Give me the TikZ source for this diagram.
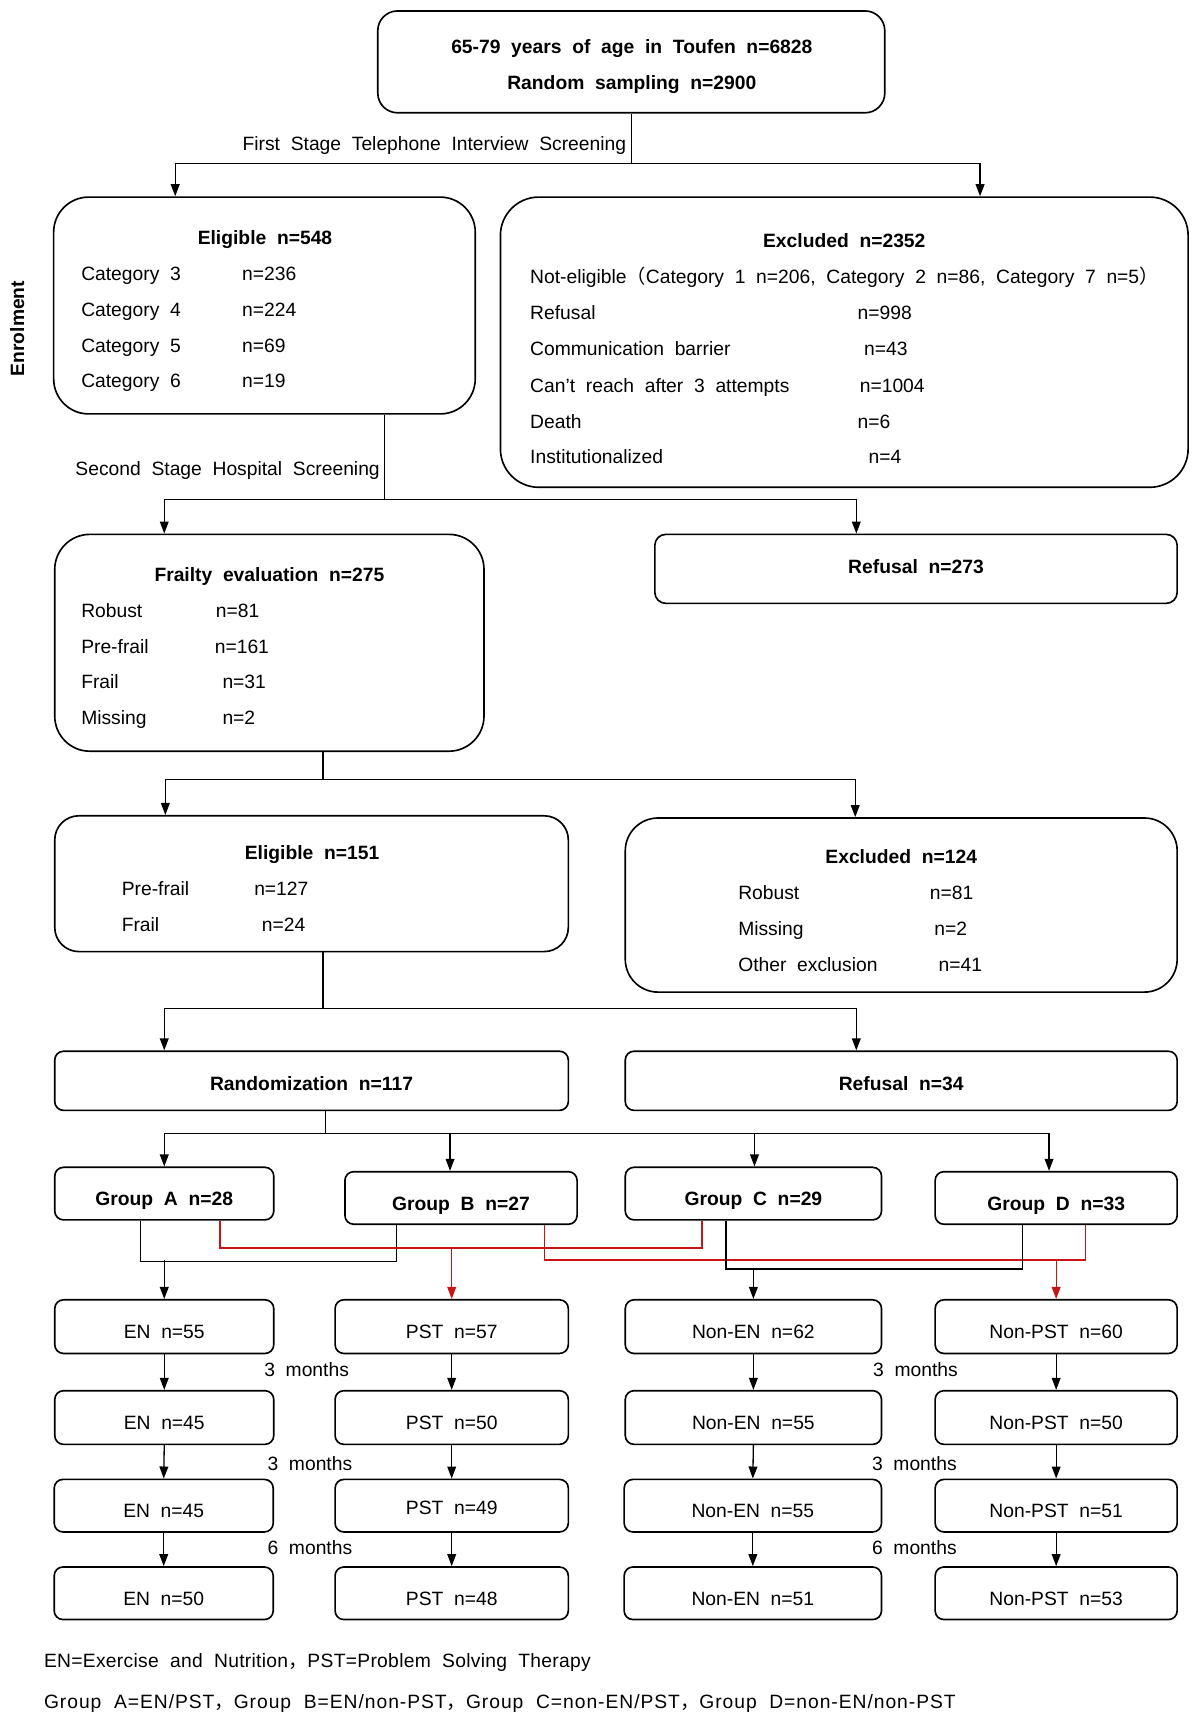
\documentclass[tikz,border=0pt]{standalone}
\usepackage{fontspec}
\setmainfont{Liberation Sans}[WordSpace=2]
\newfontfamily\cjk{Noto Sans CJK SC}
\newfontfamily\fnA{Liberation Sans}[WordSpace=2,LetterSpace=1.5]
\newfontfamily\fnB{Liberation Sans}[WordSpace=2,LetterSpace=5]
\usetikzlibrary{arrows.meta,calc}
\definecolor{redline}{RGB}{200,20,20}
\begin{document}
\begin{tikzpicture}[x=1pt,y=-1pt,
  every node/.style={font=\fontsize{17.6}{20}\selectfont},
  box/.style={draw,line width=1.5pt,rounded corners=#1,inner sep=0pt},
  box/.default=9pt,
  txt/.style={inner sep=0pt,text height=12pt,text depth=0pt},
  hd/.style={txt,font=\fontsize{17.6}{20}\selectfont\bfseries},
  lowtxt/.style={text height=22pt,text depth=0pt},
  midtxt/.style={text height=18pt,text depth=0pt},
  conn/.style={line width=1.2pt},
  arr/.style={conn,-{Triangle[length=11pt,width=8pt]}},
  rconn/.style={conn,draw=redline},
  rarr/.style={arr,draw=redline,fill=redline}
]
\fill[white] (0,0) rectangle (1096,1568);
\useasboundingbox (0,0) rectangle (1096,1568);

% ---------- top box ----------
\node[box=18pt,minimum width=463pt,minimum height=93pt] (top) at (576.5,56.5) {};
\node[hd] (top1) at (577,43) {65-79 years of age in Toufen n=6828};
\node[hd] (top2) at (577,76) {Random sampling n=2900};

% ---------- Enrolment ----------
\node[hd,rotate=90] (enrol) at (16,300) {Enrolment};

% ---------- eligible 548 ----------
\node[box=32pt,minimum width=385pt,minimum height=198pt] (el1) at (241.5,279) {};
\node[hd] (el1h) at (242,217) {Eligible n=548};
\node[txt,anchor=west] (el1a) at (74,250) {Category 3};
\node[txt,anchor=west] (el1av) at (221,250) {n=236};
\node[txt,anchor=west] (el1b) at (74,283) {Category 4};
\node[txt,anchor=west] (el1bv) at (221,283) {n=224};
\node[txt,anchor=west] (el1c) at (74,316) {Category 5};
\node[txt,anchor=west] (el1cv) at (221,316) {n=69};
\node[txt,anchor=west] (el1d) at (74,348) {Category 6};
\node[txt,anchor=west] (el1dv) at (221,348) {n=19};

% ---------- excluded 2352 ----------
\node[box=35pt,minimum width=628pt,minimum height=265pt] (ex1) at (771,312.5) {};
\node[hd] (ex1h) at (771,220) {Excluded n=2352};
\node[txt,anchor=west] (ex1a) at (484,253) {Not-eligible{\cjk （}Category 1 n=206, Category 2 n=86, Category 7 n=5{\cjk ）}};
\node[txt,anchor=west] (ex1b) at (484,286) {Refusal};
\node[txt,anchor=west] (ex1bv) at (783,286) {n=998};
\node[txt,anchor=west] (ex1c) at (484,319) {Communication barrier};
\node[txt,anchor=west] (ex1cv) at (789,319) {n=43};
\node[txt,anchor=west] (ex1d) at (484,352) {Can’t reach after 3 attempts};
\node[txt,anchor=west] (ex1dv) at (785,352) {n=1004};
\node[txt,anchor=west] (ex1e) at (484,385) {Death};
\node[txt,anchor=west] (ex1ev) at (783,385) {n=6};
\node[txt,anchor=west] (ex1f) at (484,417) {Institutionalized};
\node[txt,anchor=west] (ex1fv) at (793,417) {n=4};

% ---------- frailty ----------
\node[box=32pt,minimum width=392pt,minimum height=198pt] (fr) at (246,587) {};
\node[hd] (frh) at (246,525) {Frailty evaluation n=275};
\node[txt,anchor=west] (fra) at (74,558) {Robust};
\node[txt,anchor=west] (frav) at (197,558) {n=81};
\node[txt,anchor=west] (frb) at (74,591) {Pre-frail};
\node[txt,anchor=west] (frbv) at (196,591) {n=161};
\node[txt,anchor=west] (frc) at (74,623) {Frail};
\node[txt,anchor=west] (frcv) at (203,623) {n=31};
\node[txt,anchor=west] (frd) at (74,656) {Missing};
\node[txt,anchor=west] (frdv) at (203,656) {n=2};

% ---------- refusal 273 ----------
\node[box=10pt,minimum width=477pt,minimum height=63pt,font=\fontsize{17.6}{20}\selectfont\bfseries,text height=9pt,text depth=0pt] (rf1) at (836.5,519.5) {Refusal n=273};

% ---------- eligible 151 ----------
\node[box=22pt,minimum width=469pt,minimum height=124pt] (el2) at (284.5,807) {};
\node[hd] (el2h) at (285,779) {Eligible n=151};
\node[txt,anchor=west] (el2a) at (111,812) {Pre-frail};
\node[txt,anchor=west] (el2av) at (232,812) {n=127};
\node[txt,anchor=west] (el2b) at (111,845) {Frail};
\node[txt,anchor=west] (el2bv) at (239,845) {n=24};

% ---------- excluded 124 ----------
\node[box=30pt,minimum width=504pt,minimum height=159pt] (ex2) at (823,826.5) {};
\node[hd] (ex2h) at (823,783) {Excluded n=124};
\node[txt,anchor=west] (ex2a) at (674,815) {Robust};
\node[txt,anchor=west] (ex2av) at (849,815) {n=81};
\node[txt,anchor=west] (ex2b) at (674,848) {Missing};
\node[txt,anchor=west] (ex2bv) at (853,848) {n=2};
\node[txt,anchor=west] (ex2c) at (674,881) {Other exclusion};
\node[txt,anchor=west] (ex2cv) at (857,881) {n=41};

% ---------- randomization / refusal 34 ----------
\node[box=8pt,minimum width=469pt,minimum height=54pt,midtxt,font=\fontsize{17.6}{20}\selectfont\bfseries] (rand) at (284.5,987) {Randomization n=117};
\node[box=8pt,minimum width=504pt,minimum height=54pt,midtxt,font=\fontsize{17.6}{20}\selectfont\bfseries] (rf2) at (823,987) {Refusal n=34};

% ---------- groups ----------
\begin{scope}[every node/.append style={font=\fontsize{17.6}{20}\selectfont\bfseries}]
\node[box=8pt,minimum width=200pt,minimum height=48pt,lowtxt] (gA) at (150,1090) {Group A n=28};
\node[box=8pt,minimum width=212pt,minimum height=48pt,lowtxt] (gB) at (421,1094) {Group B n=27};
\node[box=8pt,minimum width=234pt,minimum height=48pt,lowtxt] (gC) at (688,1090) {Group C n=29};
\node[box=8pt,minimum width=221pt,minimum height=48pt,lowtxt] (gD) at (964.5,1094) {Group D n=33};
\end{scope}

% ---------- outcome rows ----------
\node[box=8pt,minimum width=200pt,minimum height=49pt,lowtxt] (en1) at (150,1211.5) {EN n=55};
\node[box=8pt,minimum width=213pt,minimum height=49pt,lowtxt] (pst1) at (412.5,1211.5) {PST n=57};
\node[box=8pt,minimum width=234pt,minimum height=49pt,lowtxt] (nen1) at (688,1211.5) {Non-EN n=62};
\node[box=8pt,minimum width=221pt,minimum height=49pt,lowtxt] (npst1) at (964.5,1211.5) {Non-PST n=60};

\node[box=8pt,minimum width=200pt,minimum height=49pt,lowtxt] (en2) at (150,1294.5) {EN n=45};
\node[box=8pt,minimum width=213pt,minimum height=49pt,lowtxt] (pst2) at (412.5,1294.5) {PST n=50};
\node[box=8pt,minimum width=234pt,minimum height=49pt,lowtxt] (nen2) at (688,1294.5) {Non-EN n=55};
\node[box=8pt,minimum width=221pt,minimum height=49pt,lowtxt] (npst2) at (964.5,1294.5) {Non-PST n=50};

\node[box=8pt,minimum width=200pt,minimum height=48pt,lowtxt] (en3) at (149.5,1375) {EN n=45};
\node[box=8pt,minimum width=213pt,minimum height=48pt,text height=16pt,text depth=0pt] (pst3) at (412.5,1375) {PST n=49};
\node[box=8pt,minimum width=235pt,minimum height=48pt,lowtxt] (nen3) at (687.5,1375) {Non-EN n=55};
\node[box=8pt,minimum width=221pt,minimum height=48pt,lowtxt] (npst3) at (964.5,1375) {Non-PST n=51};

\node[box=8pt,minimum width=200pt,minimum height=48pt,lowtxt] (en4) at (149.5,1455) {EN n=50};
\node[box=8pt,minimum width=213pt,minimum height=48pt,lowtxt] (pst4) at (412.5,1455) {PST n=48};
\node[box=8pt,minimum width=235pt,minimum height=48pt,lowtxt] (nen4) at (687.5,1455) {Non-EN n=51};
\node[box=8pt,minimum width=221pt,minimum height=48pt,lowtxt] (npst4) at (964.5,1455) {Non-PST n=53};

% ---------- month labels ----------
\node[txt] (m1l) at (280,1251) {3 months};
\node[txt] (m1r) at (836,1251) {3 months};
\node[txt] (m2l) at (283,1337) {3 months};
\node[txt] (m2r) at (835,1337) {3 months};
\node[txt] (m3l) at (283,1414) {6 months};
\node[txt] (m3r) at (835,1414) {6 months};

% ---------- stage labels ----------
\node[txt,anchor=east] (lab1) at (572,131) {First Stage Telephone Interview Screening};
\node[txt,anchor=east] (lab2) at (347,428) {Second Stage Hospital Screening};

% ---------- footnotes ----------
\node[txt,anchor=west] (fn1) at (40,1517) {\fnA EN=Exercise and Nutrition{\cjk ，}PST=Problem Solving Therapy};
\node[txt,anchor=west] (fn2) at (40,1554) {\fnB Group A=EN/PST{\cjk ，}Group B=EN/non-PST{\cjk ，}Group C=non-EN/PST{\cjk ，}Group D=non-EN/non-PST};

% ---------- connectors: top ----------
\coordinate (j1) at (576.5,149);
\draw[conn] (top.south) -- (j1);
\draw[arr] (j1) -| ($(el1.north)+(-81.5,0)$);
\draw[arr] (j1) -| ($(ex1.north)+(124,0)$);

\coordinate (j2) at (351,456);
\draw[conn] ($(el1.south)+(109.5,0)$) -- (j2);
\draw[arr] (j2) -| ($(fr.north)+(-96,0)$);
\draw[arr] (j2) -| ($(rf1.north)+(-54.5,0)$);

\coordinate (j3) at (295,712);
\draw[conn] ($(fr.south)+(49,0)$) -- (j3);
\draw[arr] (j3) -| ($(el2.north)+(-133.5,0)$);
\draw[arr] (j3) -| ($(ex2.north)+(-42,0)$);

\coordinate (j4) at (295,921);
\draw[conn] ($(el2.south)+(10.5,0)$) -- (j4);
\draw[arr] (j4) -| ($(rand.north)+(-134.5,0)$);
\draw[arr] (j4) -| ($(rf2.north)+(-41,0)$);

\coordinate (j5) at (297,1035);
\draw[conn] ($(rand.south)+(12.5,0)$) -- (j5);
\draw[arr] (j5) -| (gA.north);
\draw[arr] (j5) -| ($(gB.north)+(-10,0)$);
\draw[arr] (j5) -| ($(gC.north)+(1,0)$);
\draw[arr] (j5) -| ($(gD.north)+(-6.5,0)$);

% ---------- group to arm connectors ----------
\coordinate (jab) at (150,1151);
\draw[conn] ($(gA.south)+(-22,0)$) |- ($(gB.south)+(-59,33)$) -- ($(gB.south)+(-59,0)$);
\draw[arr] (jab) -- (en1.north);

\coordinate (jac) at (412.5,1139);
\draw[rconn] ($(gA.south)+(51,0)$) |- ($(gC.south)+(-47,25)$) -- ($(gC.south)+(-47,0)$);
\draw[rarr] (jac) -- (pst1.north);

\coordinate (jbd) at (964.5,1150);
\draw[rconn] ($(gB.south)+(76,0)$) |- ($(gD.south)+(26.5,32)$) -- ($(gD.south)+(26.5,0)$);
\draw[rarr] (jbd) -- (npst1.north);

\coordinate (jcd) at (688,1158);
\draw[conn] ($(gC.south)+(-25,0)$) |- ($(gD.south)+(-30.5,40)$) -- ($(gD.south)+(-30.5,0)$);
\draw[arr] (jcd) -- (nen1.north);

% ---------- follow-up arrows ----------
\foreach \c in {en,pst,nen,npst}{
  \draw[arr] (\c1.south) -- (\c2.north);
  \draw[arr] (\c2.south) -- (\c3.north);
  \draw[arr] (\c3.south) -- (\c4.north);
}
\end{tikzpicture}
\end{document}
